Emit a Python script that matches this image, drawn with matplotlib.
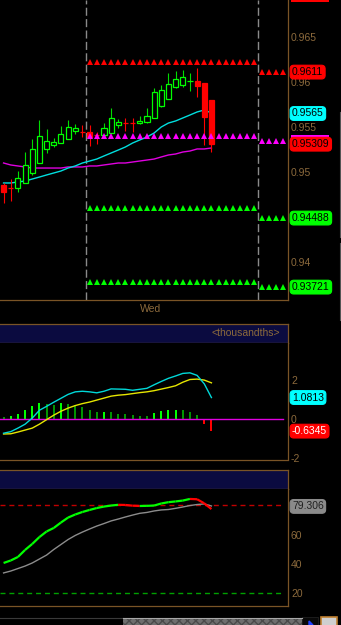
import numpy as np
import matplotlib
matplotlib.use("Agg")
import matplotlib.pyplot as plt
from matplotlib.patches import Rectangle
from matplotlib.collections import LineCollection
from matplotlib import transforms

plt.rcParams['font.family'] = ['Liberation Sans', 'DejaVu Sans']

W, H = 341, 625
TXT = '#8c6a3c'     # brown axis text
EDGE = '#7a5426'    # brown panel borders
NAVY = '#0b0b40'
FS = 7.5

# ---- data: hourly candles ----
opens  = [0.94856, 0.94822, 0.94822, 0.94878, 0.94989, 0.95100, 0.95256, 0.95300, 0.95322, 0.95367,
          0.95456, 0.95444, 0.95444, 0.95411, 0.95411, 0.95433, 0.95522, 0.95544, 0.95544, 0.95544,
          0.95556, 0.95600, 0.95733, 0.95811, 0.95944, 0.95967, 0.96008, 0.96011, 0.95989, 0.95800]
highs  = [0.94878, 0.94922, 0.95011, 0.95222, 0.95367, 0.95578, 0.95478, 0.95378, 0.95511, 0.95578,
          0.95533, 0.95522, 0.95522, 0.95444, 0.95544, 0.95711, 0.95589, 0.95600, 0.95600, 0.95622,
          0.95711, 0.95933, 0.95967, 0.96100, 0.96122, 0.96133, 0.96100, 0.96156, 0.95989, 0.95800]
lows   = [0.94656, 0.94678, 0.94778, 0.94878, 0.94967, 0.95100, 0.95211, 0.95278, 0.95322, 0.95367,
          0.95422, 0.95389, 0.95289, 0.95311, 0.95411, 0.95433, 0.95489, 0.95456, 0.95444, 0.95533,
          0.95544, 0.95600, 0.95722, 0.95811, 0.95933, 0.95944, 0.95900, 0.95833, 0.95300, 0.95222]
closes = [0.94778, 0.94820, 0.94933, 0.95078, 0.95256, 0.95400, 0.95344, 0.95333, 0.95422, 0.95500,
          0.95489, 0.95442, 0.95389, 0.95409, 0.95489, 0.95600, 0.95556, 0.95542, 0.95542, 0.95567,
          0.95622, 0.95889, 0.95911, 0.95978, 0.96033, 0.96056, 0.96011, 0.95956, 0.95611, 0.95311]

ma_fast = [0.94878, 0.94878, 0.94889, 0.94900, 0.94922, 0.94944, 0.94967, 0.94989, 0.95011, 0.95044,
           0.95067, 0.95100, 0.95122, 0.95144, 0.95178, 0.95211, 0.95244, 0.95278, 0.95322, 0.95356,
           0.95389, 0.95433, 0.95500, 0.95544, 0.95567, 0.95600, 0.95633, 0.95667, 0.95689, 0.95656]
ma_slow = [0.95100, 0.95078, 0.95067, 0.95056, 0.95044, 0.95044, 0.95044, 0.95044, 0.95044, 0.95056,
           0.95056, 0.95056, 0.95067, 0.95067, 0.95078, 0.95089, 0.95100, 0.95100, 0.95111, 0.95122,
           0.95133, 0.95144, 0.95167, 0.95189, 0.95200, 0.95222, 0.95233, 0.95256, 0.95256, 0.95267]

# pivot levels: previous session and current session
prev_levels = [0.96222, 0.95400, 0.94600, 0.93778]
curr_levels = [0.96110, 0.95344, 0.94488, 0.93721]
level_colors = ['#ff0000', '#ff00ff', '#00ff00', '#00ff00']
session_start, session_end, last_bar = 11.5, 35.5, 39

price_ticks = [0.94, 0.95, 0.955, 0.96, 0.965]
price_labels = ['0.94', '0.95', '0.955', '0.96', '0.965']

# value boxes on the price scale (the first two are hidden / cut off)
hidden_box_vals = [0.9696, 0.95344]
hidden_box_cols = ['#ff0000', '#ff00ff']
price_box_vals = [0.9611, 0.9565, 0.95309, 0.94488, 0.93721]
price_box_text = ['0.9611', '0.9565', '0.95309', '0.94488', '0.93721']
price_box_cols = ['#ff0000', '#00ffff', '#ff0000', '#00ff00', '#00ff00']

# ---- MACD ----
macd_line = [-0.74, -0.66, -0.48, -0.28, 0.03, 0.43, 0.63, 0.84, 1.04, 1.24,
             1.37, 1.40, 1.37, 1.32, 1.40, 1.52, 1.51, 1.50, 1.45, 1.50,
             1.55, 1.73, 1.90, 2.06, 2.18, 2.31, 2.34, 2.21, 1.78, 1.08]
macd_signal = [-0.78, -0.77, -0.68, -0.58, -0.48, -0.28, -0.05, 0.18, 0.38, 0.54,
               0.67, 0.77, 0.85, 0.95, 1.05, 1.15, 1.20, 1.23, 1.28, 1.33,
               1.37, 1.43, 1.51, 1.59, 1.68, 1.86, 2.00, 2.02, 1.97, 1.83]
macd_hist = [0.08, 0.14, 0.25, 0.44, 0.64, 0.78, 0.73, 0.69, 0.78, 0.77,
             0.69, 0.59, 0.44, 0.34, 0.35, 0.34, 0.25, 0.24, 0.19, 0.14,
             0.13, 0.30, 0.39, 0.44, 0.45, 0.44, 0.36, 0.19, -0.29, -0.63]
macd_ticks = [-2, 0, 2]
macd_box_vals = [1.0813, -0.6345]
macd_box_cols = ['#00ffff', '#ff0000']

# ---- stochastic ----
stoch_k = [40.7, 42.4, 44.8, 49.6, 53.7, 58.4, 62.2, 64.6, 68.3, 71.7,
           73.8, 75.5, 76.9, 78.2, 79.2, 79.9, 80.4, 80.3, 79.8, 79.6,
           79.7, 79.9, 81.3, 82.2, 82.7, 83.3, 84.4, 84.2, 81.4, 77.5]
stoch_d = [33.9, 35.2, 36.9, 38.6, 40.7, 43.4, 46.1, 49.9, 53.3, 56.7,
           59.5, 61.8, 63.9, 65.9, 67.6, 69.4, 70.7, 72.1, 73.4, 74.6,
           75.2, 76.2, 76.9, 77.2, 78.0, 78.9, 79.9, 80.6, 81.0, 79.6]
stoch_ticks = [20, 40, 60]
stoch_box_val = 79.306

bars = np.arange(len(opens))
PX_PER_BAR = 7.167
XL = (-0.5, -0.5 + 287.5 / PX_PER_BAR)

fig = plt.figure(figsize=(W / 100, H / 100), dpi=100, facecolor='black')


def px_axes(x0, y0, x1, y1, **kw):
    return fig.add_axes([x0 / W, 1 - y1 / H, (x1 - x0) / W, (y1 - y0) / H], **kw)


def style(ax, spines=('right', 'bottom')):
    ax.set_facecolor('black')
    for s in ax.spines:
        ax.spines[s].set_visible(s in spines)
        ax.spines[s].set_color(EDGE)
        ax.spines[s].set_linewidth(0.9)
    ax.set_xlim(*XL)
    ax.set_xticks([])
    ax.yaxis.tick_right()
    ax.tick_params(axis='y', length=0, pad=2.5, labelsize=FS, labelcolor=TXT)


def box(ax, val, text, col, tcol='black', z=6):
    tr = transforms.blended_transform_factory(ax.transAxes, ax.transData)
    ax.text(1 + 4.5 / 287.5, val, text, transform=tr, ha='left', va='center',
            fontsize=FS, color=tcol, clip_on=False, zorder=z,
            bbox=dict(boxstyle='round,pad=0.18,rounding_size=0.35', fc=col, ec=col, lw=0.8))


# decorations layer (window chrome)
deco = px_axes(0, 0, W, H)
deco.set_xlim(0, W)
deco.set_ylim(H, 0)
deco.axis('off')
deco.plot([0, 123], [617.5, 617.5], color='#3a3a3a', lw=0.8)
deco.add_patch(Rectangle((123, 618), 179, 8, fc='#6e6e6e', ec='#4a4a4a', hatch='xxxx', lw=0))
deco.plot([123, 302], [618.3, 618.3], color='#a8a8a8', lw=0.8)
deco.add_patch(Rectangle((302, 617), 16, 9, fc='#080808', ec='#202020', lw=0.6))
deco.fill([309, 313, 309], [621, 625, 625], color='#2040ff')
deco.add_patch(Rectangle((320.5, 616.5), 16, 9, fc='#cfcfcf', ec='#c08030', lw=1.2))
deco.plot([339.5, 339.5], [112, 237], color='#555555', lw=0.8)
deco.plot([339.5, 339.5], [243, 320], color='#555555', lw=0.8)

# ---- main price panel ----
ax = px_axes(0, 0, 287.5, 299.5)
style(ax)
ax.set_ylim(0.965 - 262.5 / 9000, 0.965 + 37 / 9000)
ax.set_yticks(price_ticks)
ax.set_yticklabels(price_labels)

for xv in (session_start, session_end):
    ax.axvline(xv, color='#8a8a8a', lw=1.0, dashes=(5.8, 2.4), zorder=1)

ax.plot(bars, ma_slow, color='#e000e0', lw=1.0, zorder=2)
ax.plot(bars, ma_fast, color='#00dede', lw=1.0, zorder=2)

for i in bars:
    up = closes[i] > opens[i]
    c = '#00ff00' if up else '#ff0000'
    ax.vlines(i, lows[i], highs[i], color='#00dd00' if up else '#ff0000', lw=0.8, zorder=3)
    lo, hi = min(opens[i], closes[i]), max(opens[i], closes[i])
    ax.add_patch(Rectangle((i - 0.36, lo), 0.72, hi - lo, fc='black' if up else c,
                           ec=c, lw=0.9, zorder=4))

prev_x = np.arange(session_start + 0.5, session_end)
curr_x = np.arange(session_end + 0.5, last_bar + 1)
for lv_p, lv_c, col in zip(prev_levels, curr_levels, level_colors):
    ax.plot(prev_x, [lv_p] * len(prev_x), '^', ms=4.6, color=col, mew=0, zorder=5)
    ax.plot(curr_x, [lv_c] * len(curr_x), '^', ms=4.6, color=col, mew=0, zorder=5)

# boxes without readable text (covered or cut off in the view)
tr_main = transforms.blended_transform_factory(ax.transAxes, ax.transData)
for v, c in zip(hidden_box_vals, hidden_box_cols):
    ax.add_patch(Rectangle((1 + 3 / 287.5, v - 6.5 / 9000), 38.5 / 287.5, 13 / 9000,
                           transform=tr_main, fc=c, ec=c, lw=0, clip_on=False, zorder=5))

for v, t, c in zip(price_box_vals, price_box_text, price_box_cols):
    box(ax, v, t, c)

fig.text(151 / W, 1 - 309 / H, 'Wed', color=TXT, fontsize=FS, ha='center', va='center')

# ---- MACD panel ----
hdr = px_axes(0, 324, 287.5, 343)
hdr.set_facecolor(NAVY)
hdr.set_xticks([])
hdr.set_yticks([])
for s in hdr.spines:
    hdr.spines[s].set_color(EDGE)
    hdr.spines[s].set_linewidth(0.9)
hdr.spines['left'].set_visible(False)
hdr.text(0.975, 0.5, '<thousandths>', transform=hdr.transAxes, ha='right', va='center',
         fontsize=FS, color=TXT)

ax2 = px_axes(0, 343, 287.5, 459.5)
style(ax2)
ax2.set_ylim((418.7 - 459.5) / 19.6, (418.7 - 343) / 19.6)
ax2.set_yticks(macd_ticks)
ax2.set_yticklabels([str(t) for t in macd_ticks])
hist_cols = []
for i, h in enumerate(macd_hist):
    if h < 0:
        hist_cols.append('#ff0000')
    elif i > 0 and h > macd_hist[i - 1]:
        hist_cols.append('#00ff00')
    else:
        hist_cols.append('#009400')
ax2.bar(bars, macd_hist, width=0.27, color=hist_cols, zorder=2)
ax2.plot([XL[0], last_bar], [0, 0], color='#e000e0', lw=1.0, zorder=3)
ax2.plot(bars, macd_signal, color='#e6e600', lw=1.0, zorder=4)
ax2.plot(bars, macd_line, color='#00d8d8', lw=1.0, zorder=4)
box(ax2, macd_box_vals[0], '1.0813', macd_box_cols[0])
box(ax2, macd_box_vals[1], '-0.6345', macd_box_cols[1], tcol='white')

# ---- stochastic panel ----
hdr3 = px_axes(0, 470, 287.5, 489)
hdr3.set_facecolor(NAVY)
hdr3.set_xticks([])
hdr3.set_yticks([])
for s in hdr3.spines:
    hdr3.spines[s].set_color(EDGE)
    hdr3.spines[s].set_linewidth(0.9)
hdr3.spines['left'].set_visible(False)

ax3 = px_axes(0, 489, 287.5, 606)
style(ax3)
ax3.set_ylim((622.6 - 606) / 1.465, (622.6 - 489) / 1.465)
ax3.set_yticks(stoch_ticks)
ax3.set_yticklabels([str(t) for t in stoch_ticks])
ax3.plot([XL[0], last_bar], [80, 80], color='#c00000', lw=1.0, dashes=(3.6, 2.8))
ax3.plot([XL[0], last_bar], [20, 20], color='#00a000', lw=1.0, dashes=(3.6, 2.8))
ax3.plot(bars, stoch_d, color='#8c8c8c', lw=1.0, zorder=3)
pts = np.column_stack([bars, stoch_k])
segs = np.stack([pts[:-1], pts[1:]], axis=1)
seg_cols = ['#00ff00' if b >= a else '#ff0000' for a, b in zip(stoch_k[:-1], stoch_k[1:])]
ax3.add_collection(LineCollection(segs, colors=seg_cols, linewidths=1.6, zorder=4))
box(ax3, stoch_box_val, '79.306', '#8a8a8a', tcol='#202020')

fig.savefig('out.png', dpi=100, facecolor='black')
